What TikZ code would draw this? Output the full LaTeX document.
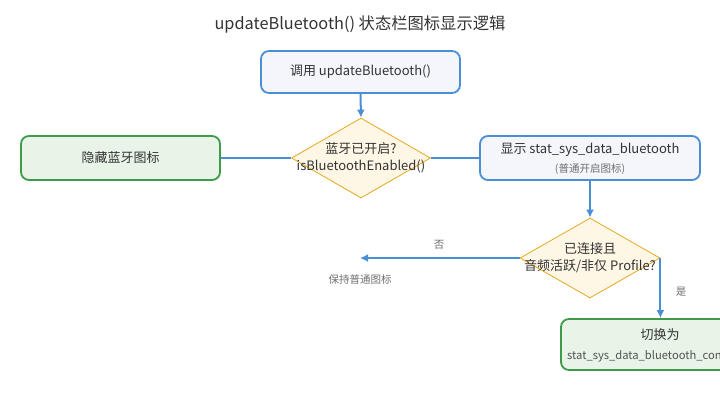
\documentclass[tikz,border=0pt]{standalone}
\usepackage{fontspec}
\setmainfont{Noto Sans CJK SC}
\usetikzlibrary{shapes.geometric,arrows.meta}
\definecolor{bblue}{HTML}{4A8FD6}
\definecolor{bfill}{HTML}{F4F6FB}
\definecolor{ggreen}{HTML}{3E9B48}
\definecolor{gfill}{HTML}{E7F4E7}
\definecolor{oorange}{HTML}{E5A81E}
\definecolor{ofill}{HTML}{FFF7E6}
\definecolor{txt}{HTML}{333333}
\definecolor{grey}{HTML}{6E6E6E}
\tikzset{
  box/.style={draw=bblue, fill=bfill, line width=1.8pt, rounded corners=8pt, inner sep=0pt, align=center, text=txt, font=\fontsize{13}{17}\selectfont},
  gbox/.style={box, draw=ggreen, fill=gfill},
  dia/.style={diamond, draw=oorange, fill=ofill, line width=0.8pt, inner sep=0pt},
  dtext/.style={align=center, text=txt, font=\fontsize{13}{17}\selectfont, inner sep=0pt},
  conn/.style={draw=bblue, line width=2pt},
  arr/.style={conn, -{Latex[length=8pt,width=8pt]}},
  small/.style={text=grey, font=\fontsize{10.5}{13}\selectfont, inner sep=0pt},
}
\begin{document}
\begin{tikzpicture}[x=1pt,y=-1pt]
\useasboundingbox (0,0) rectangle (720,400);
\clip (0,0) rectangle (720,400);
\node[text=txt, font=\fontsize{16.3}{20}\selectfont, inner sep=0pt] (title) at (360,24) {updateBluetooth() 状态栏图标显示逻辑};
\node[box, minimum width=199pt, minimum height=42pt] (call) at (360.5,72) {调用 updateBluetooth()};
\node[dia, minimum width=139pt, minimum height=80pt] (d1) at (361,158) {};
\node[dtext] (d1t) at (361,158) {蓝牙已开启?\\isBluetoothEnabled()};
\node[gbox, minimum width=199pt, minimum height=44pt] (hide) at (120.5,158) {隐藏蓝牙图标};
\node[box, minimum width=220pt, minimum height=44pt] (show) at (590,158) {};
\node[dtext] (showa) at (590,150) {显示 stat\_sys\_data\_bluetooth};
\node[small] (showb) at (590,169) {(普通开启图标)};
\node[dia, minimum width=140pt, minimum height=80pt] (d2) at (590,258) {};
\node[dtext] (d2t) at (590,258) {已连接且\\音频活跃/非仅 Profile?};
\node[gbox, minimum width=198pt, minimum height=51pt] (sw) at (660,344.5) {};
\node[dtext] (swa) at (660,335) {切换为};
\node[dtext, anchor=west, text=txt!85, font=\fontsize{11.2}{14}\selectfont] (swb) at (567,356) {stat\_sys\_data\_bluetooth\_connected};
\coordinate (keep) at (360,258);
\node[small] (keept) at (360,279) {保持普通图标};
\node[small] (no) at (439,245) {否};
\node[small] (yes) at (681,292) {是};
\draw[arr] (call.south) -- (d1.north);
\draw[conn] (d1.west) -- (hide.east);
\draw[conn] (d1.east) -- (show.west);
\draw[arr] (show.south) -- (d2.north);
\draw[arr] (d2.west) -- (keep);
\draw[arr] (d2.east) -- (d2.east |- sw.north);
\end{tikzpicture}
\end{document}
